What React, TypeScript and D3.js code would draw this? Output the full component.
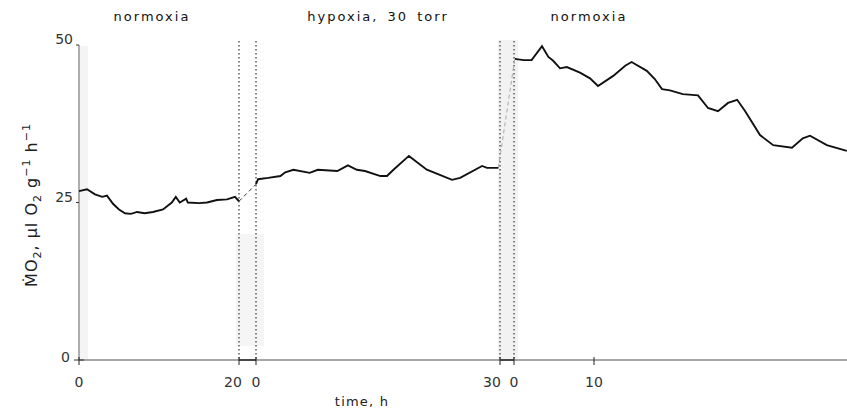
import React from "react";
import * as d3 from "d3";

// [hours, MO2]
const normoxiaBefore: [number, number][] = [
  [0, 26.8], [1, 27.1], [2, 26.3], [2.9, 25.9], [3.5, 26.1], [4.25, 24.8], [5, 23.9],
  [5.75, 23.3], [6.5, 23.2], [7.25, 23.5], [8.2, 23.3], [9.25, 23.5], [10.5, 23.9],
  [11.6, 25], [12.1, 25.9], [12.6, 25], [13.4, 25.6], [13.6, 25], [15, 24.9],
  [16, 25], [17.25, 25.4], [18.5, 25.5], [19.5, 25.9], [20, 25.2],
];
const hypoxia: [number, number][] = [
  [0, 27.9], [0.25, 28.7], [1.5, 28.9], [3, 29.2], [3.6, 29.8], [4.6, 30.2],
  [6.6, 29.7], [7.6, 30.2], [10, 30], [11.3, 30.9], [12.4, 30.2], [13.4, 30],
  [15.3, 29.2], [16.1, 29.2], [16.9, 30.2], [18.8, 32.4], [19.8, 31.4], [21, 30.2],
  [22.6, 29.4], [24.1, 28.6], [25.1, 28.9], [27.8, 30.8], [28.4, 30.5], [29.8, 30.5],
];
const normoxiaAfter: [number, number][] = [
  [0.1, 47.8], [1.2, 47.6], [2.2, 47.6], [3.5, 49.8], [4.3, 48.1], [4.9, 47.5],
  [5.75, 46.3], [6.6, 46.5], [8.25, 45.6], [9.5, 44.7], [10.5, 43.5], [12.4, 45.1],
  [13.9, 46.7], [14.7, 47.3], [16.6, 45.9], [17.6, 44.6], [18.5, 43], [19.5, 42.8],
  [21.1, 42.2], [23, 42], [24.25, 40], [25.5, 39.5], [26.75, 40.8], [27.9, 41.3],
  [28.9, 39.5], [30.75, 35.7], [32.4, 34.1], [34.75, 33.7], [36.1, 35.2], [37, 35.6],
  [39.1, 34.1], [41.6, 33.2],
];

const yTicks = [0, 25, 50];
const phaseLabels = ["normoxia", "hypoxia, 30 torr", "normoxia"];

const W = 847;
const H = 411;

const x1 = d3.scaleLinear().domain([0, 20]).range([79, 239]);
const x2 = d3.scaleLinear().domain([0, 30]).range([256, 500]);
const x3 = d3.scaleLinear().domain([0, 41.625]).range([514, 847]);
const y = d3.scaleLinear().domain([0, 50]).range([360, 45]);

const font = "'DejaVu Sans', 'Liberation Sans', sans-serif";

export default function App() {
  const mk = (xs: d3.ScaleLinear<number, number>) =>
    d3
      .line<[number, number]>()
      .x((d) => xs(d[0]))
      .y((d) => y(d[1]));

  const last1 = normoxiaBefore[normoxiaBefore.length - 1];
  const first2 = hypoxia[0];
  const last2 = hypoxia[hypoxia.length - 1];
  const first3 = normoxiaAfter[0];

  const dividers = [x1(20), x2(0), x2(30), x3(0)];
  // dx nudges labels apart where two segments meet
  const xTicks: { x: number; label: string; dx: number }[] = [
    { x: x1(0), label: "0", dx: 0 },
    { x: x1(20), label: "20", dx: -6 },
    { x: x2(0), label: "0", dx: 0 },
    { x: x2(30), label: "30", dx: -8 },
    { x: x3(0), label: "0", dx: 0 },
    { x: x3(10), label: "10", dx: 0 },
  ];
  const labelX = [152, 378, 589];

  return (
    <div style={{ position: "absolute", left: 0, top: 0 }}>
      <svg width={W} height={H} style={{ display: "block", background: "#fff" }}>
        {/* faint scan shading */}
        <rect x={80} y={46} width={8} height={314} fill="#f4f4f4" />
        <rect x={236} y={234} width={28} height={112} fill="#f5f5f5" />
        <rect x={498} y={40} width={20} height={320} fill="#f2f2f2" />

        {/* dotted phase dividers */}
        {dividers.map((dx, i) => (
          <line key={i} x1={dx} x2={dx} y1={41} y2={360} stroke="#111"
            strokeWidth={1} strokeDasharray="1.5,2.5" />
        ))}

        {/* axes */}
        <line x1={79} x2={79} y1={y(50)} y2={y(0)} stroke="#777" strokeWidth={1.2} />
        <line x1={79} x2={W} y1={y(0)} y2={y(0)} stroke="#888" strokeWidth={1.3} />
        <line x1={x1(20)} x2={x2(0)} y1={y(0)} y2={y(0)} stroke="#111" strokeWidth={1.3} />
        <line x1={x2(30)} x2={x3(0)} y1={y(0)} y2={y(0)} stroke="#111" strokeWidth={1.3} />

        {yTicks.map((t) => (
          <g key={t}>
            <line x1={t === 0 ? 74 : 76} x2={t === 0 ? 84 : 79} y1={y(t)} y2={y(t)} stroke="#333" />
            <text x={t === 0 ? 70 : 73} y={y(t) + (t === 0 ? 2 : -1)} textAnchor="end" fontFamily={font}
              fontSize={14} fill="#333">{t}</text>
          </g>
        ))}

        {xTicks.map((t, i) => (
          <g key={i}>
            <line x1={t.x} x2={t.x} y1={y(0) - 3} y2={y(0) + 5} stroke="#222" />
            <text x={t.x + t.dx} y={387} textAnchor="middle" fontFamily={font} fontSize={14}
              fill="#333">{t.label}</text>
          </g>
        ))}

        <text x={362} y={406} textAnchor="middle" fontFamily={font} fontSize={13}
          letterSpacing={1.2} fill="#222">time, h</text>

        <text transform="translate(37,205) rotate(-90)" textAnchor="middle"
          fontFamily={font} fontSize={16} fill="#222" letterSpacing={1}>
          <tspan>ṀO</tspan>
          <tspan fontSize={11} dy={4}>2</tspan>
          <tspan dy={-4}>, µl O</tspan>
          <tspan fontSize={11} dy={4}>2</tspan>
          <tspan dy={-4}> g</tspan>
          <tspan fontSize={11} dy={-7}>−1</tspan>
          <tspan dy={7}> h</tspan>
          <tspan fontSize={11} dy={-7}>−1</tspan>
        </text>

        {phaseLabels.map((p, i) => (
          <text key={i} x={labelX[i]} y={21} textAnchor="middle" fontFamily={font}
            fontSize={13} letterSpacing={2} wordSpacing={3} fill="#111">{p}</text>
        ))}

        {/* dashed transitions */}
        <line x1={x1(last1[0])} y1={y(last1[1])} x2={x2(first2[0])} y2={y(first2[1])}
          stroke="#333" strokeWidth={1} strokeDasharray="4,3" />
        <line x1={x2(last2[0])} y1={y(last2[1])} x2={x3(first3[0])} y2={y(first3[1])}
          stroke="#aaa" strokeWidth={1} strokeDasharray="4,3" />

        <path d={mk(x1)(normoxiaBefore) || ""} fill="none" stroke="#111" strokeWidth={1.9} />
        <path d={mk(x2)(hypoxia) || ""} fill="none" stroke="#111" strokeWidth={1.9} />
        <path d={mk(x3)(normoxiaAfter) || ""} fill="none" stroke="#111" strokeWidth={1.9} />
      </svg>
    </div>
  );
}
